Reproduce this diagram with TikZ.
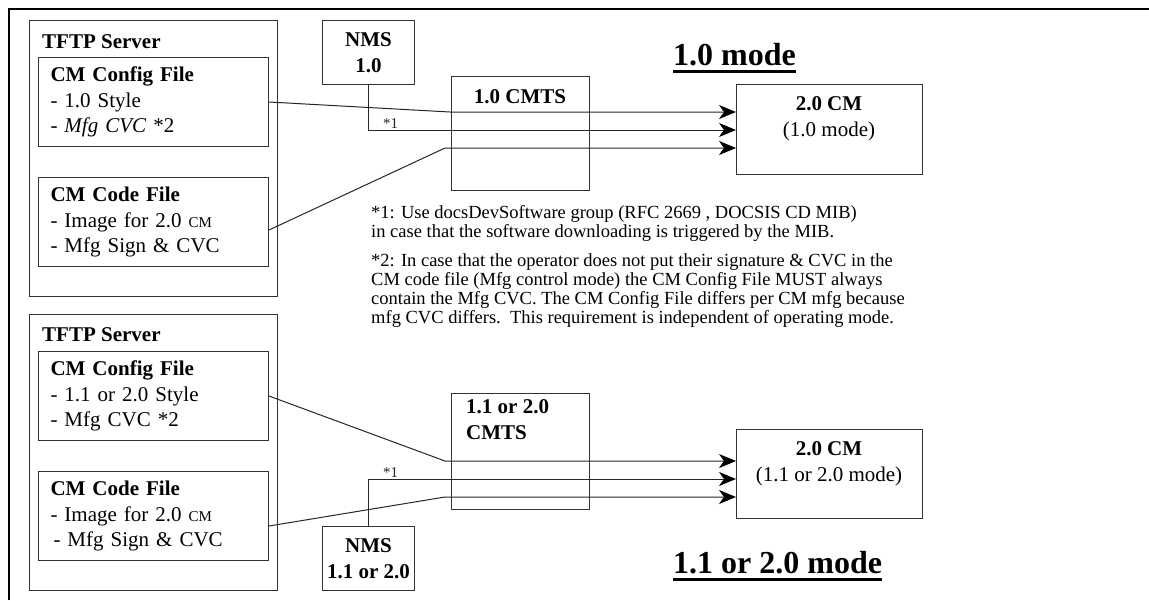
\documentclass[tikz,border=0pt]{standalone}
\usepackage{fontspec}
\setmainfont{Liberation Serif}
\usetikzlibrary{arrows.meta,positioning}
\newcommand{\smcm}{{\fontsize{15}{15}\selectfont CM}}

\begin{document}
\begin{tikzpicture}[x=1pt,y=-1pt,
    box/.style={draw=black!80, line width=1pt, inner sep=0pt},
    filebox/.style={box, anchor=north west, minimum width=230pt, minimum height=89pt, text width=206pt, inner xsep=12pt, align=left, font=\fontsize{21}{25.5}\selectfont},
    nmsbox/.style={box, anchor=north west, minimum width=92pt, minimum height=64pt, align=center, font=\fontsize{21}{26}\selectfont\bfseries},
    txt/.style={inner sep=0pt, font=\fontsize{21}{26}\selectfont},
    note/.style={inner sep=0pt, anchor=west, align=left, font=\fontsize{18.5}{19}\selectfont},
    ttl/.style={inner sep=0pt, anchor=base west, font=\fontsize{32}{36}\selectfont\bfseries},
    star/.style={inner sep=1pt, font=\fontsize{15}{15}\selectfont},
    wire/.style={line width=1pt, black!85},
    arr/.style={wire, -{Stealth[length=17pt, width=14pt, inset=5pt, black]}}]
            \useasboundingbox (0,0) rectangle (1149,600);
            \draw[line width=2.5pt] (9,600) -- (9,9) -- (1149,9);

            \node[box, anchor=north west, minimum width=248pt, minimum height=276pt] (srvA) at (29,20) {};
            \node[txt, anchor=west] (srvAlbl) at (42,42) {\textbf{TFTP Server}};
            \node[filebox] (cfgA) at (38,57) {\textbf{CM Config File}\\- 1.0 Style\\\textit{- Mfg CVC} *2};
            \node[filebox] (codeA) at (38,177) {\textbf{CM Code File}\\- Image for 2.0 \smcm\\- Mfg Sign \& CVC};
            \node[nmsbox] (nmsA) at (322,20) {NMS\\1.0};
            \node[box, anchor=north west, minimum width=138pt, minimum height=114pt] (cmtsA) at (451,76) {};
            \node[txt] (cmtsAlbl) at (520,97) {\textbf{1.0 CMTS}};
            \node[box, anchor=north west, minimum width=186pt, minimum height=90pt] (cmA) at (736,84) {};
            \node[txt, align=center] (cmAlbl) at (829,119) {\textbf{2.0 CM}\\(1.0 mode)};
            \node[ttl] (ttlA) at (673,65) {1.0 mode};
            \draw[line width=3pt] ([yshift=-6pt]ttlA.base west) -- ([yshift=-6pt]ttlA.base east);

            \coordinate (kA1) at (450,112);
            \coordinate (kA3) at (445,148);
            \coordinate (inA1) at (736,112);
            \coordinate (inA2) at (736,130);
            \coordinate (inA3) at (736,148);
            \draw[arr] (cfgA.east) -- (kA1) -- (inA1);
            \draw[arr] (nmsA.south) |- node[star, pos=0.53, above] (starA) {*1} (inA2);
            \draw[arr] ([yshift=-8pt]codeA.east) -- (kA3) -- (inA3);

            \node[note] (noteA) at (371,223) {*1: Use docsDevSoftware group (RFC 2669 , DOCSIS CD MIB)\\in case that the software downloading is triggered by the MIB.};
            \node[note] (noteB) at (371,291) {*2: In case that the operator does not put their signature \& CVC in the\\CM code file (Mfg control mode) the CM Config File MUST always\\contain the Mfg CVC. The CM Config File differs per CM mfg because\\mfg CVC differs.\ \ This requirement is independent of operating mode.};

            \node[box, anchor=north west, minimum width=248pt, minimum height=276pt] (srvB) at (29,314) {};
            \node[txt, anchor=west] (srvBlbl) at (42,335) {\textbf{TFTP Server}};
            \node[filebox] (cfgB) at (38,351) {\textbf{CM Config File}\\- 1.1 or 2.0 Style\\- Mfg CVC *2};
            \node[filebox] (codeB) at (38,471) {\textbf{CM Code File}\\- Image for 2.0 \smcm\\\hspace*{3pt}- Mfg Sign \& CVC};
            \node[nmsbox] (nmsB) at (322,526) {NMS\\1.1 or 2.0};
            \node[box, anchor=north west, minimum width=138pt, minimum height=116pt] (cmtsB) at (451,393) {};
            \node[txt, anchor=west, align=left] (cmtsBlbl) at (466,420) {\textbf{1.1 or 2.0}\\\textbf{CMTS}};
            \node[box, anchor=north west, minimum width=186pt, minimum height=89pt] (cmB) at (736,429) {};
            \node[txt, align=center] (cmBlbl) at (829,464) {\textbf{2.0 CM}\\(1.1 or 2.0 mode)};
            \node[ttl] (ttlB) at (673,573) {1.1 or 2.0 mode};
            \draw[line width=3pt] ([yshift=-6pt]ttlB.base west) -- ([yshift=-6pt]ttlB.base east);

            \coordinate (kB1) at (445,461);
            \coordinate (kB3) at (445,497);
            \coordinate (inB1) at (736,461);
            \coordinate (inB2) at (736,479);
            \coordinate (inB3) at (736,497);
            \draw[arr] (cfgB.east) -- (kB1) -- (inB1);
            \draw[arr] (nmsB.north) |- node[star, pos=0.53, above] (starB) {*1} (inB2);
            \draw[arr] ([yshift=-10pt]codeB.east) -- (kB3) -- (inB3);
\end{tikzpicture}
\end{document}
